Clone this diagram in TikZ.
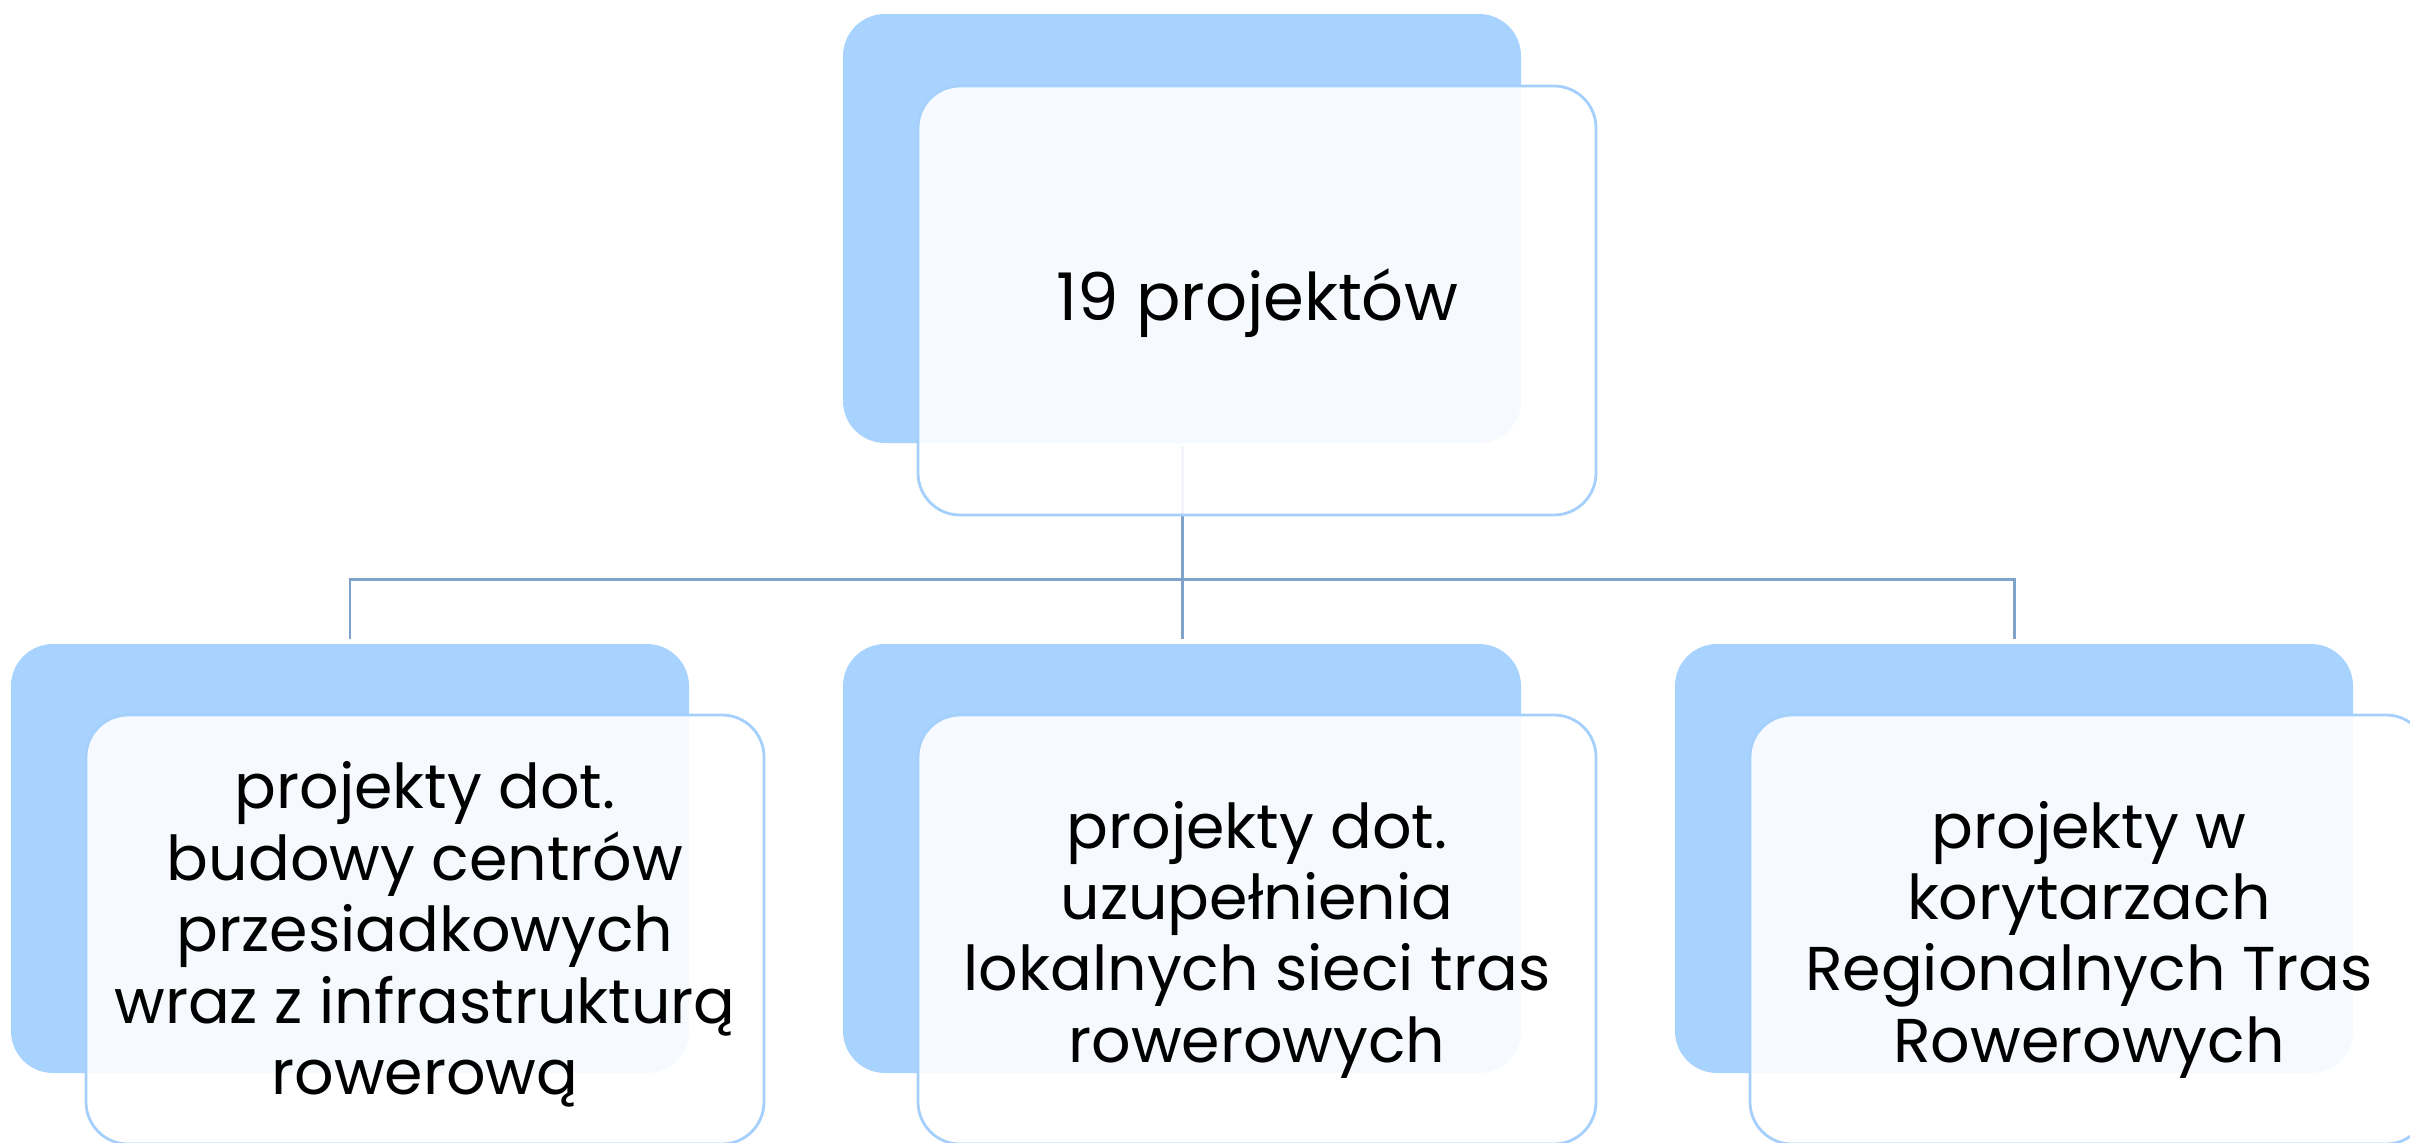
\documentclass[tikz,border=0pt]{standalone}
\usepackage{fontspec}
\setmainfont{Poppins}
\usetikzlibrary{calc}
\definecolor{boxblue}{HTML}{A8D3FE}
\definecolor{edgeblue}{HTML}{A6D0FC}
\definecolor{connblue}{HTML}{7FA2CB}
\tikzset{
  backbox/.style={fill=boxblue, draw=none, rounded corners=0.42cm,
    minimum width=6.78cm, minimum height=4.29cm, inner sep=0pt},
  frontbox/.style={fill=white, fill opacity=0.9, draw=edgeblue,
    line width=0.8pt, rounded corners=0.42cm, minimum width=6.78cm,
    minimum height=4.29cm, inner sep=0pt},
  txt/.style={align=center, text=black, inner sep=0pt},
  smalltext/.style={txt, font=\fontsize{17.6}{20.3}\selectfont},
  bigtext/.style={txt, font=\fontsize{18.7}{24}\selectfont},
  conn/.style={draw=connblue, line width=0.85pt}
}
\begin{document}
\begin{tikzpicture}
\useasboundingbox (0,0) rectangle (24.10,-11.43);
\clip (0,0) rectangle (24.10,-11.43);
% back boxes
\node[backbox] (b0) at (11.82,-2.285) {};
\node[backbox] (b1) at (3.50,-8.585) {};
\node[backbox] (b2) at (11.82,-8.585) {};
\node[backbox] (b3) at (20.14,-8.585) {};
% connectors
\coordinate (j) at ($(b0.south)+(0,-1.36)$);
\draw[conn] ([yshift=-0.02cm]b0.south) -- (j);
\draw[conn, shorten >=0.04cm] (j) -| (b1.north);
\draw[conn, shorten >=0.04cm] (j) -- (b2.north);
\draw[conn, shorten >=0.04cm] (j) -| (b3.north);
% front boxes
\node[frontbox] (w0) at (12.57,-3.005) {};
\node[frontbox] (w1) at (4.25,-9.295) {};
\node[frontbox] (w2) at (12.57,-9.295) {};
\node[frontbox] (w3) at (20.89,-9.295) {};
% texts
\node[bigtext] (t0) at ([yshift=-0.03cm]w0.center) {19 projektów};
\node[smalltext] (t1) at ([yshift=-0.05cm]w1.center) {projekty dot.\\budowy centrów\\przesiadkowych\\wraz z infrastrukturą\\rowerową};
\node[smalltext] (t2) at ([yshift=-0.10cm]w2.center) {projekty dot.\\uzupełnienia\\lokalnych sieci tras\\rowerowych};
\node[smalltext] (t3) at ([yshift=-0.10cm]w3.center) {projekty w\\korytarzach\\Regionalnych Tras\\Rowerowych};
\end{tikzpicture}
\end{document}
